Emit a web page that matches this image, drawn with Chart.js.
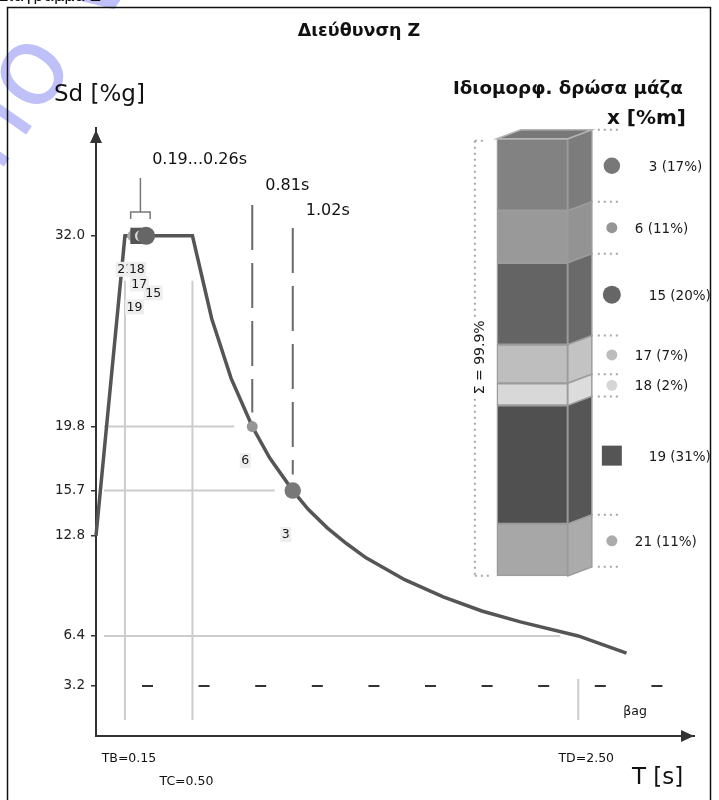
<!DOCTYPE html>
<html lang="el">
<head>
<meta charset="utf-8">
<title>Διεύθυνση Z</title>
<script src="https://cdn.jsdelivr.net/npm/chart.js@4.4.1/dist/chart.umd.min.js"></script>
<style>
html, body { margin: 0; padding: 0; background: #fff; }
canvas { display: block; }
</style>
</head>
<body>
<canvas id="spectrum" width="719" height="800"></canvas>
<script>
// ---- Design spectrum Sd(T), direction Z ----
const spectrumT  = [0, 0.15, 0.50, 0.60, 0.70, 0.81, 0.90, 1.02, 1.10, 1.20, 1.30, 1.40, 1.50, 1.60, 1.80, 2.00, 2.20, 2.50, 2.75];
const spectrumSd = [12.8, 32.0, 32.0, 26.7, 22.9, 19.8, 17.8, 15.7, 14.5, 13.3, 12.3, 11.4, 10.7, 10.0, 8.9, 8.0, 7.3, 6.4, 5.3];
const yTickValues = [3.2, 6.4, 12.8, 15.7, 19.8, 32.0];
const cornerNames = ['TB', 'TC', 'TD'];
const cornerT     = [0.15, 0.50, 2.50];
const betaAg      = 3.2;

// ---- Eigenmodes: number, period [s], Sd [%g], effective modal mass [%m] ----
const modeIds = [3, 6, 15, 17, 18, 19, 21];
const modeT   = [1.02, 0.81, 0.26, 0.24, 0.23, 0.22, 0.19];
const modeSd  = [15.7, 19.8, 32.0, 32.0, 32.0, 32.0, 32.0];
const massPct = [17, 11, 20, 7, 2, 31, 11];
const massSumText = 'Σ = 99.9%';

// ---- styling ----
const FAMILY = '"DejaVu Sans", Verdana, sans-serif';
const fnt = (px, bold) => (bold ? 'bold ' : '') + px + 'px ' + FAMILY;
const markerColor = ['#787878', '#959595', '#666666', '#bcbcbc', '#d6d6d6', '#555555', '#ababab'];
const boxFront    = ['#828282', '#999999', '#646464', '#bebebe', '#d8d8d8', '#505050', '#a7a7a7'];
const boxSide     = ['#7c7c7c', '#939393', '#6a6a6a', '#c3c3c3', '#dcdcdc', '#565656', '#ababab'];
const boxTopColor = '#787878';
const boxEdge     = '#9c9c9c';
const boxDepth    = { dx: 24, dy: -9 };
// label offsets (px) below each marker, same order as modeIds
const modeLabelOffset = [[-7, 44], [-7, 34], [7, 57], [-3, 48], [-3.5, 33.5], [-4, 71], [-7.5, 33.5]];
const markerDrawOrder = [6, 5, 3, 4, 2, 1, 0];
const labelDrawOrder  = [6, 4, 3, 2, 5, 1, 0];

function markerRadius(pct) { return pct >= 30 ? 11.5 : (pct >= 15 ? 4 + pct * 0.25 : 5.5); }
function markerShape(pct)  { return pct >= 30 ? 'rect' : 'circle'; }

// mass column: placed beside the spectrum, each storey gets a minimum height plus its share
const boxBase = 48.2, boxPad = 4.65, boxColumnT = 2.262;
const boxSegments = [];
{
  let level = boxBase;
  for (let i = modeIds.length - 1; i >= 0; i--) {
    boxSegments[i] = [level, level + massPct[i] + boxPad];
    level += massPct[i] + boxPad;
  }
}

function txt(ctx, s, x, y, px, o = {}) {
  ctx.font = fnt(px, o.bold);
  ctx.fillStyle = o.color || '#111';
  ctx.textAlign = o.align || 'left';
  ctx.textBaseline = o.baseline || 'alphabetic';
  ctx.fillText(s, x, y);
}
function seg(ctx, x1, y1, x2, y2) { ctx.beginPath(); ctx.moveTo(x1, y1); ctx.lineTo(x2, y2); ctx.stroke(); }
function tagged(ctx, s, cx, cy, px) {
  ctx.font = fnt(px);
  const w = ctx.measureText(s).width;
  ctx.fillStyle = '#eeeeee';
  ctx.fillRect(cx - w / 2 - 1.5, cy - px * 0.6, w + 3, px * 1.2);
  txt(ctx, s, cx, cy + 0.5, px, { align: 'center', baseline: 'middle', color: '#1a1a1a' });
}
function dotted(ctx, x1, y1, x2, y2) {
  ctx.save();
  ctx.strokeStyle = '#a8a8a8'; ctx.lineWidth = 2; ctx.setLineDash([2, 4]);
  seg(ctx, x1, y1, x2, y2);
  ctx.restore();
}

const decor = {
  id: 'decor',
  beforeDraw(chart) {
    const ctx = chart.ctx;
    ctx.save();
    ctx.fillStyle = '#fff';
    ctx.fillRect(0, 0, chart.width, chart.height);
    // faint watermark lettering
    ctx.translate(32, 74);
    ctx.rotate(-55 * Math.PI / 180);
    ctx.font = '110px ' + FAMILY;
    ctx.fillStyle = 'rgba(150,150,245,0.6)';
    const pre = ctx.measureText('Dem').width, ow = ctx.measureText('o').width;
    ctx.textBaseline = 'alphabetic';
    ctx.fillText('Demo Version', -pre - ow / 2, 30);
    ctx.restore();
  },
  beforeDatasetsDraw(chart) {
    const { ctx, scales: { x, y } } = chart;
    const X = v => x.getPixelForValue(v), Y = v => y.getPixelForValue(v);
    const x0 = X(0), y0 = Y(0);
    ctx.save();
    // light guide lines
    ctx.strokeStyle = '#cccccc'; ctx.lineWidth = 2;
    seg(ctx, x0 + 8, Y(modeSd[1]), X(modeT[1]) - 18, Y(modeSd[1]));
    seg(ctx, x0 + 8, Y(modeSd[0]), X(modeT[0]) - 18, Y(modeSd[0]));
    const sdTD = spectrumSd[spectrumT.indexOf(cornerT[2])];
    seg(ctx, x0 + 8, Y(sdTD), X(cornerT[2]) - 18, Y(sdTD));
    const plateau = spectrumSd[spectrumT.indexOf(cornerT[0])];
    seg(ctx, X(cornerT[0]), Y(plateau) + 45, X(cornerT[0]), y0 - 16);
    seg(ctx, X(cornerT[1]), Y(plateau) + 45, X(cornerT[1]), y0 - 16);
    seg(ctx, X(cornerT[2]), Y(betaAg) - 7, X(cornerT[2]), y0 - 16);
    // beta*ag level
    ctx.strokeStyle = '#333'; ctx.lineWidth = 2; ctx.setLineDash([11, 45.6]);
    seg(ctx, x0 + 46, Y(betaAg), chart.chartArea.right - 28, Y(betaAg));
    // dashed period markers of modes 6 and 3
    ctx.strokeStyle = '#6a6a6a'; ctx.setLineDash([45, 13]);
    seg(ctx, X(modeT[1]), 205, X(modeT[1]), Y(modeSd[1]) - 14);
    seg(ctx, X(modeT[0]), 228, X(modeT[0]), Y(modeSd[0]) - 16);
    ctx.setLineDash([]);
    // bracket over the plateau group
    const tMin = Math.min(...modeT.slice(2)), tMax = Math.max(...modeT.slice(2));
    const bl = X(tMin) - 2, br = X(tMax) + 4, bm = (bl + br) / 2;
    ctx.strokeStyle = '#777'; ctx.lineWidth = 1.5;
    seg(ctx, bm, 178, bm, 212);
    ctx.beginPath();
    ctx.moveTo(bl, 219); ctx.lineTo(bl, 212); ctx.lineTo(br, 212); ctx.lineTo(br, 219);
    ctx.stroke();
    ctx.restore();
  },
  afterDatasetsDraw(chart) {
    const { ctx, chartArea: ca, scales: { x, y } } = chart;
    const X = v => x.getPixelForValue(v), Y = v => y.getPixelForValue(v);
    ctx.save();
    // axis arrow heads
    ctx.fillStyle = '#333';
    ctx.beginPath(); ctx.moveTo(ca.left, ca.top + 2); ctx.lineTo(ca.left - 6, ca.top + 15); ctx.lineTo(ca.left + 6, ca.top + 15); ctx.closePath(); ctx.fill();
    ctx.beginPath(); ctx.moveTo(ca.right, ca.bottom); ctx.lineTo(ca.right - 13, ca.bottom - 6); ctx.lineTo(ca.right - 13, ca.bottom + 6); ctx.closePath(); ctx.fill();

    // period annotations
    const tMin = Math.min(...modeT.slice(2)), tMax = Math.max(...modeT.slice(2));
    txt(ctx, tMin.toFixed(2) + '...' + tMax.toFixed(2) + 's', X(tMax) + 6, 164, 16);
    txt(ctx, modeT[1].toFixed(2) + 's', X(modeT[1]) + 13, 190, 16);
    txt(ctx, modeT[0].toFixed(2) + 's', X(modeT[0]) + 13, 215, 16);

    // mode number tags
    for (const i of labelDrawOrder) {
      const [dx, dy] = modeLabelOffset[i];
      tagged(ctx, String(modeIds[i]), X(modeT[i]) + dx, Y(modeSd[i]) + dy, 12.5);
    }

    // corner periods and beta*ag
    txt(ctx, cornerNames[0] + '=' + cornerT[0].toFixed(2), X(cornerT[0]) + 4, 762, 12.5, { align: 'center' });
    txt(ctx, cornerNames[1] + '=' + cornerT[1].toFixed(2), X(cornerT[1]) - 6, 785, 12.5, { align: 'center' });
    txt(ctx, cornerNames[2] + '=' + cornerT[2].toFixed(2), X(cornerT[2]) + 8, 762, 12.5, { align: 'center' });
    txt(ctx, 'βag', X(cornerT[2]) + 45, 715, 12.5);

    // axis titles and headings
    txt(ctx, 'Sd [%g]', 54, 101, 23);
    txt(ctx, 'T [s]', 632, 784, 23);
    txt(ctx, 'Διεύθυνση Z', 359, 36, 17.5, { bold: true, align: 'center' });
    txt(ctx, 'Ιδιομορφ. δρώσα μάζα', 453, 94, 18.3, { bold: true });
    txt(ctx, 'x [%m]', 686, 124, 20, { bold: true, align: 'right' });

    // 3-D mass column: side faces and top face
    const els = chart.getDatasetMeta(2).data;
    const { dx, dy } = boxDepth;
    const faces = els.map(el => {
      const p = el.getProps(['x', 'y', 'base', 'width'], true);
      return { l: p.x - p.width / 2, r: p.x + p.width / 2, t: Math.min(p.y, p.base), b: Math.max(p.y, p.base) };
    });
    faces.forEach((f, i) => {
      ctx.fillStyle = boxSide[i]; ctx.strokeStyle = boxEdge; ctx.lineWidth = 1.5;
      ctx.beginPath();
      ctx.moveTo(f.r, f.t); ctx.lineTo(f.r + dx, f.t + dy); ctx.lineTo(f.r + dx, f.b + dy); ctx.lineTo(f.r, f.b); ctx.closePath();
      ctx.fill(); ctx.stroke();
    });
    const colTop = Math.min(...faces.map(f => f.t)), colBottom = Math.max(...faces.map(f => f.b));
    const colLeft = faces[0].l, colRight = faces[0].r;
    ctx.fillStyle = boxTopColor; ctx.strokeStyle = '#b5b5b5'; ctx.lineWidth = 1.5;
    ctx.beginPath();
    ctx.moveTo(colLeft, colTop); ctx.lineTo(colLeft + dx, colTop + dy); ctx.lineTo(colRight + dx, colTop + dy); ctx.lineTo(colRight, colTop); ctx.closePath();
    ctx.fill(); ctx.stroke();

    // legend entries level with the middle of each side face
    faces.forEach((f, i) => {
      const my = (f.t + f.b) / 2 + dy, mx = colRight + dx + 20;
      const rad = markerRadius(massPct[i]);
      ctx.fillStyle = markerColor[i];
      if (markerShape(massPct[i]) === 'rect') {
        ctx.fillRect(mx - 10, my - 10, 20, 20);
      } else {
        ctx.beginPath(); ctx.arc(mx, my, rad, 0, Math.PI * 2); ctx.fill();
      }
      const lx = rad > 7 ? mx + 37 : mx + 23;
      txt(ctx, modeIds[i] + ' (' + massPct[i] + '%)', lx, my + 5, 13.5, { color: '#1a1a1a' });
      dotted(ctx, f.r + dx + 6, f.t + dy, f.r + dx + 26, f.t + dy);
      if (i === faces.length - 1) dotted(ctx, f.r + dx + 6, f.b + dy, f.r + dx + 26, f.b + dy);
    });

    // sum bracket on the left
    const sx = colLeft - 22;
    dotted(ctx, sx, colTop + 2, sx, colBottom);
    dotted(ctx, sx, colTop + 2, sx + 10, colTop + 2);
    dotted(ctx, sx, colBottom, sx + 14, colBottom);
    ctx.save();
    ctx.translate(sx + 6, (colTop + colBottom) / 2);
    ctx.rotate(-Math.PI / 2);
    ctx.font = fnt(14);
    const sw = ctx.measureText(massSumText).width;
    ctx.fillStyle = '#fff'; ctx.fillRect(-sw / 2 - 2, -9, sw + 4, 16);
    txt(ctx, massSumText, 0, 0, 14, { align: 'center', baseline: 'middle', color: '#1a1a1a' });
    ctx.restore();

    // clipped caption at the top and the outer frame
    txt(ctx, 'Διάγραμμα Z', 101, 0.5, 16, { align: 'right' });
    ctx.strokeStyle = '#111'; ctx.lineWidth = 1.5;
    ctx.strokeRect(7.5, 7.5, 703, 820);
    ctx.restore();
  }
};

new Chart(document.getElementById('spectrum'), {
  type: 'scatter',
  data: {
    datasets: [
      {
        type: 'scatter',
        order: 0,
        data: markerDrawOrder.map(i => ({ x: modeT[i], y: modeSd[i] })),
        pointStyle: markerDrawOrder.map(i => markerShape(massPct[i])),
        pointRadius: markerDrawOrder.map(i => markerRadius(massPct[i])),
        pointHoverRadius: markerDrawOrder.map(i => markerRadius(massPct[i])),
        pointBackgroundColor: markerDrawOrder.map(i => markerColor[i]),
        pointBorderWidth: 0,
        clip: false
      },
      {
        type: 'line',
        order: 1,
        data: spectrumT.map((t, i) => ({ x: t, y: spectrumSd[i] })),
        borderColor: '#555555',
        borderWidth: 3.5,
        pointRadius: 0,
        tension: 0,
        fill: false,
        clip: false
      },
      {
        type: 'bar',
        order: 2,
        xAxisID: 'x',
        yAxisID: 'yBox',
        data: modeIds.map((id, i) => ({ x: boxColumnT, y: boxSegments[i] })),
        backgroundColor: boxFront,
        borderColor: boxEdge,
        borderWidth: 1.5,
        borderSkipped: false,
        barThickness: 71
      }
    ]
  },
  options: {
    responsive: false,
    animation: false,
    devicePixelRatio: 1,
    events: [],
    layout: { padding: { left: 0, top: 128, right: 25, bottom: 64 } },
    plugins: { legend: { display: false }, tooltip: { enabled: false } },
    scales: {
      x: {
        type: 'linear', min: 0, max: 3.1, offset: false,
        ticks: { display: false },
        grid: { display: false, drawTicks: false, offset: false },
        border: { display: true, color: '#333', width: 2 },
        afterFit: s => { s.height = 0; }
      },
      y: {
        type: 'linear', min: 0, max: 38.9,
        afterBuildTicks: s => { s.ticks = yTickValues.map(v => ({ value: v })); },
        ticks: {
          autoSkip: false, padding: 6, color: '#222',
          font: { family: FAMILY, size: 13.5 },
          callback: v => Number(v).toFixed(1)
        },
        grid: { drawOnChartArea: false, drawTicks: true, tickLength: 5, color: '#333', lineWidth: 1.5 },
        border: { display: true, color: '#333', width: 2 },
        afterFit: s => { s.width = 96; }
      },
      yBox: { type: 'linear', display: false, min: 0, max: 183 }
    }
  },
  plugins: [decor]
});
</script>
</body>
</html>
